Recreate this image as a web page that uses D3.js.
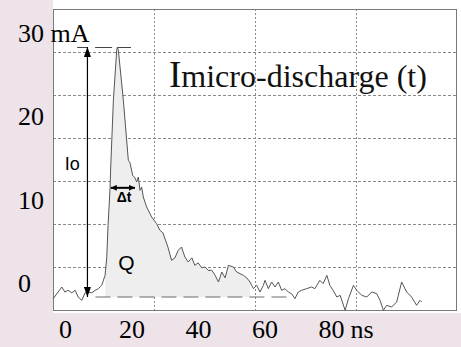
<!DOCTYPE html>
<html>
<head>
<meta charset="utf-8">
<script src="https://cdn.jsdelivr.net/npm/d3@7"></script>
<style>
  body { margin: 0; background: #ede3e9; }
  svg { display: block; }
  .serif { font-family: "Liberation Serif", "DejaVu Serif", serif; }
  .sans { font-family: "Liberation Sans", "DejaVu Sans", sans-serif; }
</style>
</head>
<body>
<svg></svg>
<script>
// micro-discharge current pulse
let timeNs = [-3.7, -1.1, -0.2, 0.8, 1.9, 2.9, 3.8, 4.9, 5.9, 6.8,
              7.9, 8.9, 9.9, 10.9, 11.9, 12.4, 12.8, 13.4, 13.6, 14.4,
              15.4, 15.6, 15.9, 17.4, 18.9, 19.4, 20.2, 20.9, 21.4, 21.9,
              22.4, 22.9, 23.4, 24.4, 25.9, 27.4, 28.4, 29.3, 30.8, 31.9,
              32.9, 33.9, 34.9, 35.9, 36.9, 38.0, 38.9, 39.9, 41.0, 42.0,
              42.9, 44.0, 45.0, 46.0, 47.0, 48.0, 49.0, 50.5, 51.5, 53.5,
              54.5, 55.5, 56.5, 57.5, 58.5, 59.5, 60.0, 61.0, 62.0, 63.0,
              64.0, 65.0, 66.0, 67.0, 68.0, 69.0, 70.0, 71.0, 72.5, 74.0,
              75.0, 76.5, 77.5, 78.6, 79.5, 80.5, 81.6, 82.6, 84.1, 85.1,
              86.6, 87.6, 89.1, 90.6, 92.1, 93.6, 94.6, 95.6, 96.6, 98.1,
              99.6, 101.1, 102.6, 104.1, 105.6, 106.6, 107.1];

let currentMa = [-0.2, 1.2, 0.6, 0.8, 0.5, 0.8, 0.0, -0.4, 0.5, 0.6,
                 0.5, 0.8, 1.0, 1.4, 2.6, 4.7, 8.6, 13.1, 15.6, 23.6,
                 29.6, 30.0, 29.6, 23.6, 16.4, 16.1, 14.6, 14.3, 13.8, 14.4,
                 12.8, 13.2, 12.0, 10.8, 9.6, 8.8, 8.0, 7.7, 6.0, 4.4,
                 4.7, 5.6, 6.0, 4.8, 4.2, 4.7, 3.8, 4.1, 3.5, 3.6,
                 3.2, 3.2, 2.6, 1.8, 3.0, 2.3, 3.8, 3.6, 3.0, 2.6,
                 2.3, 1.8, 1.0, 1.4, 0.6, 1.4, 2.0, 1.0, 1.8, 1.2,
                 1.8, 0.8, 1.0, 0.6, 0.4, -0.2, 0.6, 0.8, 1.0, 1.2,
                 1.0, 2.0, 1.6, 2.6, 1.4, 0.8, 0.0, 0.2, -1.6, -0.2,
                 1.4, 0.8, 0.2, 0.0, 0.6, 0.4, -0.4, -1.6, -1.0, -1.2,
                 -0.6, 1.8, 0.6, 0.0, -1.0, -0.4, -0.6];

let xTicks = [0, 20, 40, 60, 80];
let xTickLabels = ['0', '20', '40', '60', '80'];
let xUnit = 'ns';
let yTicks = [0, 10, 20, 30];
let yTickLabels = ['0', '10', '20', '30 mA'];

// shaded charge Q, baseline, peak Io and width Δt (ns / mA)
let chargeRange = [11.9, 55.5];
let baselineRange = [9, 68.4];
let peakMarkRange = [3.5, 19.7];
let ioTime = 6.6;
let widthRange = [13.6, 20.9];
let widthLevel = 13.1;

let data = timeNs.map((t, i) => ({t: t, v: currentMa[i]}));

let svgWidth = 461,
    svgHeight = 347;

let svg = d3.select('svg')
            .attr('width', svgWidth)
            .attr('height', svgHeight);

// white page behind the plot, pink strip left and bottom
svg.append('rect')
   .attr('width', svgWidth).attr('height', svgHeight)
   .attr('fill', '#ede3e9');
svg.append('rect')
   .attr('x', 53).attr('y', 0)
   .attr('width', svgWidth - 53).attr('height', 313)
   .attr('fill', '#fff');

let x = d3.scaleLinear().domain([0, 80]).range([65.5, 331.5]);
let y = d3.scaleLinear().domain([0, 30]).range([297, 47]);

// scope divisions
let divX = d3.scaleLinear().domain([0, 4]).range([53, 457]);
let divY = d3.scaleLinear().domain([0, 7]).range([9, 310]);

let defs = svg.append('defs');
function arrowHead(id, w, h) {
  defs.append('marker')
      .attr('id', id)
      .attr('viewBox', `0 0 ${h} ${w}`)
      .attr('refX', h).attr('refY', w / 2)
      .attr('markerWidth', h).attr('markerHeight', w)
      .attr('markerUnits', 'userSpaceOnUse')
      .attr('orient', 'auto-start-reverse')
      .append('path')
      .attr('d', `M0,0L${h},${w / 2}L0,${w}Z`)
      .attr('fill', '#000');
}
arrowHead('headIo', 7, 10);
arrowHead('headDt', 6, 6);

let grid = svg.append('g').attr('stroke', '#8a8a8a').attr('stroke-width', 1);
grid.selectAll('.hgrid')
    .data(d3.range(1, 7))
    .enter().append('line')
    .attr('x1', 53).attr('x2', 457)
    .attr('y1', d => Math.round(divY(d)) + 0.5)
    .attr('y2', d => Math.round(divY(d)) + 0.5)
    .attr('stroke-dasharray', '3,2');
grid.selectAll('.vgrid')
    .data(d3.range(1, 4))
    .enter().append('line')
    .attr('x1', d => Math.round(divX(d)) + 0.5)
    .attr('x2', d => Math.round(divX(d)) + 0.5)
    .attr('y1', 9).attr('y2', 311)
    .attr('stroke-dasharray', '2,2');

// Q
let inCharge = data.filter(d => d.t >= chargeRange[0] && d.t <= chargeRange[1]);
svg.append('path')
   .datum(inCharge)
   .attr('d', d3.area().x(d => x(d.t)).y0(y(0)).y1(d => y(d.v)))
   .attr('fill', '#eeeeee');

svg.append('line')
   .attr('x1', x(baselineRange[0])).attr('x2', x(baselineRange[1]))
   .attr('y1', y(0)).attr('y2', y(0))
   .attr('stroke', '#6a6a6a')
   .attr('stroke-dasharray', '15,7');

svg.append('rect')
   .attr('x', 53.5).attr('y', 9.5)
   .attr('width', 403).attr('height', 301)
   .attr('fill', 'none')
   .attr('stroke', '#7a7a7a');

svg.append('path')
   .datum(data)
   .attr('d', d3.line().x(d => x(d.t)).y(d => y(d.v)))
   .attr('fill', 'none')
   .attr('stroke', '#555')
   .attr('stroke-width', 1)
   .attr('stroke-linejoin', 'round');

// peak marker and Io arrow
svg.append('line')
   .attr('x1', x(peakMarkRange[0])).attr('x2', x(peakMarkRange[1]))
   .attr('y1', y(30) + 0.5).attr('y2', y(30) + 0.5)
   .attr('stroke', '#444')
   .attr('stroke-dasharray', '10,8,17,6,13');
svg.append('line')
   .attr('x1', x(ioTime)).attr('x2', x(ioTime))
   .attr('y1', y(30)).attr('y2', y(0))
   .attr('stroke', '#000').attr('stroke-width', 1.2)
   .attr('marker-start', 'url(#headIo)')
   .attr('marker-end', 'url(#headIo)');

svg.append('line')
   .attr('x1', x(widthRange[0])).attr('x2', x(widthRange[1]))
   .attr('y1', y(widthLevel)).attr('y2', y(widthLevel))
   .attr('stroke', '#000').attr('stroke-width', 2)
   .attr('marker-start', 'url(#headDt)')
   .attr('marker-end', 'url(#headDt)');

svg.append('text')
   .attr('class', 'sans')
   .attr('x', x(-0.2)).attr('y', y(15.2))
   .attr('font-size', 18)
   .text('Io');
svg.append('text')
   .attr('class', 'sans')
   .attr('x', x(17.6)).attr('y', y(11.4))
   .attr('text-anchor', 'middle')
   .attr('font-size', 14).attr('font-weight', 'bold')
   .text('Δt');
svg.append('text')
   .attr('class', 'sans')
   .attr('x', x(18.3)).attr('y', y(3.2))
   .attr('text-anchor', 'middle')
   .attr('font-size', 21)
   .text('Q');

// title
let title = svg.append('text')
               .attr('class', 'serif')
               .attr('x', 169).attr('y', 87)
               .attr('fill', '#111');
title.append('tspan').attr('font-size', 37).text('I');
title.append('tspan').attr('font-size', 32).text('micro-discharge (t)');

// tick labels
svg.selectAll('.ylab')
   .data(yTicks)
   .enter().append('text')
   .attr('class', 'serif')
   .attr('x', 18)
   .attr('y', d => y(d) - 5)
   .attr('font-size', 26)
   .text((d, i) => yTickLabels[i]);

let xLabels = svg.selectAll('.xlab')
   .data(xTicks)
   .enter().append('text')
   .attr('class', 'serif')
   .attr('x', d => x(d))
   .attr('y', 338)
   .attr('text-anchor', 'middle')
   .attr('font-size', 26)
   .text((d, i) => xTickLabels[i]);

let lastW = xLabels.nodes()[xTicks.length - 1].getComputedTextLength();
svg.append('text')
   .attr('class', 'serif')
   .attr('x', x(80) + lastW / 2 + 6)
   .attr('y', 338)
   .attr('font-size', 26)
   .text(xUnit);
</script>
</body>
</html>
